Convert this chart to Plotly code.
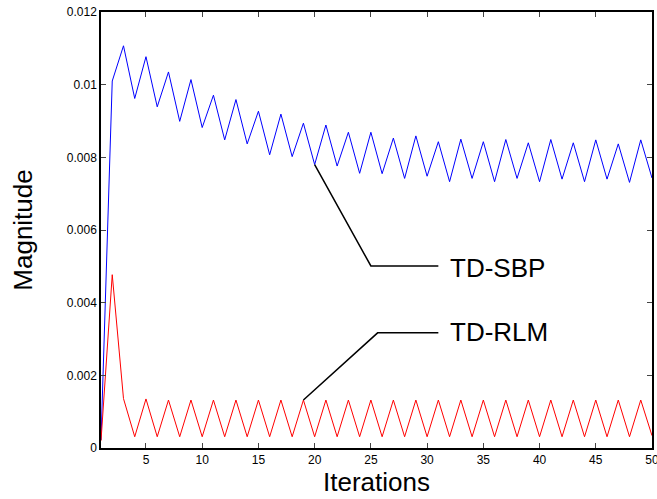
import plotly.graph_objects as go

iterations = list(range(1, 51))
td_sbp = [0.00022, 0.01010, 0.01107, 0.00962, 0.01077, 0.00939, 0.01035, 0.00899, 0.01014, 0.00882,
          0.00971, 0.00848, 0.00959, 0.00837, 0.00927, 0.00807, 0.00919, 0.00802, 0.00894, 0.00780,
          0.00889, 0.00776, 0.00869, 0.00756, 0.00869, 0.00755, 0.00853, 0.00742, 0.00859, 0.00748,
          0.00843, 0.00733, 0.00850, 0.00742, 0.00843, 0.00733, 0.00849, 0.00742, 0.00840, 0.00733,
          0.00849, 0.00740, 0.00840, 0.00733, 0.00848, 0.00740, 0.00837, 0.00731, 0.00848, 0.00743]
td_rlm = [0.00020, 0.00477, 0.00136, 0.00031, 0.00135, 0.00031, 0.00132, 0.00031, 0.00132, 0.00031,
          0.00132, 0.00031, 0.00132, 0.00031, 0.00132, 0.00031, 0.00132, 0.00031, 0.00132, 0.00031,
          0.00132, 0.00031, 0.00132, 0.00031, 0.00132, 0.00031, 0.00132, 0.00031, 0.00132, 0.00031,
          0.00132, 0.00031, 0.00132, 0.00031, 0.00132, 0.00031, 0.00132, 0.00031, 0.00132, 0.00031,
          0.00132, 0.00031, 0.00132, 0.00031, 0.00132, 0.00031, 0.00132, 0.00031, 0.00132, 0.00034]
x_ticks = [5, 10, 15, 20, 25, 30, 35, 40, 45, 50]
y_ticks = [0, 0.002, 0.004, 0.006, 0.008, 0.01, 0.012]
y_tick_labels = ["0", "0.002", "0.004", "0.006", "0.008", "0.01", "0.012"]

FONT = "Arial, Liberation Sans, sans-serif"

fig = go.Figure()
fig.add_trace(go.Scatter(x=iterations, y=td_sbp, mode="lines", name="TD-SBP",
                         line=dict(color="#0000ff", width=1)))
fig.add_trace(go.Scatter(x=iterations, y=td_rlm, mode="lines", name="TD-RLM",
                         line=dict(color="#ff0000", width=1)))

# callout lines
sbp_i = 19  # iteration 20
rlm_i = 18  # iteration 19
fig.add_trace(go.Scatter(x=[iterations[sbp_i], 25, 31], y=[td_sbp[sbp_i], 0.00501, 0.00501],
                         mode="lines", line=dict(color="black", width=1.5), hoverinfo="skip"))
fig.add_trace(go.Scatter(x=[iterations[rlm_i], 25.6, 31], y=[td_rlm[rlm_i], 0.00317, 0.00317],
                         mode="lines", line=dict(color="black", width=1.5), hoverinfo="skip"))

fig.add_annotation(x=31.9, y=0.00496, text="TD-SBP", showarrow=False, xanchor="left",
                   yanchor="middle", font=dict(family=FONT, size=26, color="black"))
fig.add_annotation(x=31.9, y=0.00318, text="TD-RLM", showarrow=False, xanchor="left",
                   yanchor="middle", font=dict(family=FONT, size=26, color="black"))

fig.update_layout(
    width=657, height=499,
    margin=dict(l=101, r=5, t=12, b=51),
    paper_bgcolor="white", plot_bgcolor="white",
    showlegend=False,
    font=dict(family=FONT, size=12, color="black"),
)
fig.update_xaxes(range=[1, 50], tickvals=x_ticks, ticks="inside", ticklen=5,
                 showline=True, linecolor="black", linewidth=1.5, mirror="ticks",
                 showgrid=False, zeroline=False, automargin=False, ticklabeloverflow="allow",
                 title=dict(text="Iterations", font=dict(family=FONT, size=26), standoff=4),
                 tickfont=dict(size=12))
fig.update_yaxes(range=[0, 0.012], tickvals=y_ticks, ticktext=y_tick_labels, ticks="inside",
                 ticklen=5, showline=True, linecolor="black", linewidth=1.5, mirror="ticks",
                 showgrid=False, zeroline=False, automargin=False, ticklabeloverflow="allow",
                 title=dict(text="Magnitude", font=dict(family=FONT, size=26), standoff=27),
                 tickfont=dict(size=12))

fig.write_html("out.html", config={"displayModeBar": False},
               post_script="document.body.style.margin='0';")
